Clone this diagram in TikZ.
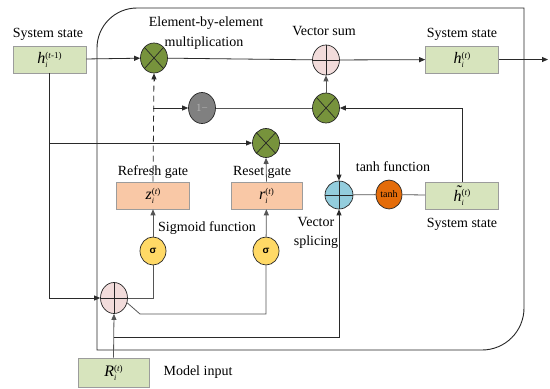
\documentclass[tikz,border=0pt]{standalone}
\usepackage{fontspec}
\setmainfont{Liberation Serif}
\newfontfamily\sigfont{Liberation Sans}
\usetikzlibrary{shapes.geometric,arrows.meta}
\definecolor{boxgreen}{HTML}{D7E4BD}
\definecolor{boxorange}{HTML}{F9C8A6}
\definecolor{boxline}{HTML}{9C9C9C}
\definecolor{opgreen}{HTML}{77933C}
\definecolor{oppink}{HTML}{F2DCDB}
\definecolor{opgray}{HTML}{808080}
\definecolor{opblue}{HTML}{93CDDD}
\definecolor{optanh}{HTML}{E46C0A}
\definecolor{opyellow}{HTML}{FFD966}
\definecolor{wire}{HTML}{2A2A2A}
\definecolor{wiregray}{HTML}{555555}
\newcommand{\sv}[3]{\textit{#1}\makebox[0pt][l]{\raisebox{-0.5ex}{\fontsize{8}{8}\selectfont\textit{#2}}}\raisebox{0.75ex}{\fontsize{9}{9}\selectfont #3}}
\newcommand{\htil}{\makebox[0pt][l]{\raisebox{0.62ex}{\kern2.2pt\textit{\char"02DC}}}\textit{h}}
\begin{document}
\begin{tikzpicture}[x=1pt,y=-1pt,
  box/.style={draw=boxline, line width=0.6pt, minimum width=73pt, minimum height=27pt, inner sep=0pt, font=\fontsize{16}{16}\selectfont},
  gbox/.style={box, fill=boxgreen},
  obox/.style={box, fill=boxorange},
  op/.style={ellipse, draw=black!85, line width=0.7pt, minimum width=27pt, minimum height=30pt, inner sep=0pt},
  lbl/.style={font=\fontsize{14}{14}\selectfont, inner sep=0pt},
  wireln/.style={draw=wire, line width=0.8pt},
  arr/.style={wireln, -{Triangle[length=6pt,width=5pt]}},
  garr/.style={draw=wiregray, line width=0.8pt, -{Triangle[length=6pt,width=5pt]}},
  gln/.style={draw=wiregray, line width=0.8pt}
]
\useasboundingbox (0,0) rectangle (550,389);
% frame
\draw[draw=black!85, line width=0.9pt] (97,350) -- (97,48) arc[start angle=180,end angle=270,radius=40] -- (524,8) -- (524,308) arc[start angle=0,end angle=90,radius=42] -- cycle;

% boxes
\node[gbox] (hprev) at (49.5,59.5) {\sv{h}{i}{(\textit{t}-1)}};
\node[gbox] (hout) at (462,59.5) {\sv{h}{i}{(\textit{t})}};
\node[obox] (z) at (153,195.5) {\sv{z}{i}{(\textit{t})}};
\node[obox, minimum width=71pt] (r) at (266.5,195.5) {\sv{r}{i}{(\textit{t})}};
\node[gbox] (ht) at (462,195.5) {\sv{\htil}{i}{(\textit{t})}};
\node[gbox, minimum width=71pt, minimum height=29pt] (R) at (113.5,372.5) {\sv{R}{i}{(\textit{t})}};

% operators
\node[op, fill=opgreen] (m1) at (154,58) {};
\node[op, fill=oppink] (vs) at (326,60) {};
\node[op, fill=opgray, minimum width=27pt, minimum height=31pt, font=\fontsize{11}{11}\selectfont\color{black!30}] (one) at (202,108) {1−};
\node[op, fill=opgreen] (m2) at (326,108) {};
\node[op, fill=opgreen, minimum height=29pt] (m3) at (266,143) {};
\node[op, fill=opblue, minimum width=28pt, minimum height=28pt] (vsp) at (339,195) {};
\node[op, fill=optanh, minimum width=26pt, minimum height=29pt, font=\fontsize{10}{10}\selectfont] (tanhc) at (389,194.5) {tanh};
\node[op, fill=opyellow, minimum width=26pt, minimum height=28pt, font=\sigfont\bfseries\fontsize{10}{10}\selectfont] (s1) at (153,251) {σ};
\node[op, fill=opyellow, minimum width=26pt, minimum height=28pt, font=\sigfont\bfseries\fontsize{10}{10}\selectfont] (s2) at (266,251) {σ};
\node[op, fill=oppink, minimum width=27pt, minimum height=31pt] (p1) at (114,298) {};

% symbols inside operators
\foreach \n in {m1,m2,m3}
  \draw[line width=0.7pt, black!85] (\n.north west) -- (\n.south east) (\n.north east) -- (\n.south west);
\foreach \n in {vs,vsp,p1}
  \draw[line width=0.7pt, black!85] (\n.north) -- (\n.south) (\n.west) -- (\n.east);

% labels
\node[lbl] (lsys1) at (48,34) {System state};
\node[lbl] (lsys2) at (462,34) {System state};
\node[lbl] (lelem1) at (206,23) {Element-by-element};
\node[lbl] (lelem2) at (204,43) {multiplication};
\node[lbl] (lvsum) at (324,31) {Vector sum};
\node[lbl] (lref) at (153,172) {Refresh gate};
\node[lbl] (lres) at (262,172) {Reset gate};
\node[lbl] (ltanh) at (393,167) {tanh function};
\node[lbl] (lsys3) at (462,224) {System state};
\node[lbl] (lsig) at (207,228) {Sigmoid function};
\node[lbl] (lvec1) at (316,222) {Vector};
\node[lbl] (lvec2) at (316,242) {splicing};
\node[lbl] (lmod) at (198,372) {Model input};

% coordinates
\coordinate (out) at (548,59.5);
\coordinate (jz) at (153,108);
\coordinate (jh) at (49.5,143);
\coordinate (bend) at (140,314);
\coordinate (jR) at (113.5,337);

% connectors
\draw[arr] (hprev) -- (m1);
\draw[wireln] (m1) -- (vs);
\draw[arr] (vs) -- (hout);
\draw[arr] (hout) -- (out);
\draw[wireln, dashed, dash pattern=on 6pt off 4pt] (z.north) -- (m1.south);
\draw[arr] ([yshift=-8pt]m1.south) -- (m1.south);
\draw[arr] (jz) -- (one);
\draw[gln] (one) -- (m2);
\draw[arr] (ht.north) |- (m2.east);
\draw[garr] (m2) -- (vs);
\draw[arr] (hprev.south) |- (p1.west);
\draw[arr] (jh) -- (m3.west);
\draw[garr] (r.north) -- (m3.south);
\draw[arr] (m3.east) -| (vsp.north);
\draw[gln] (vsp) -- (tanhc) -- (ht);
\draw[garr] (s1) -- (z);
\draw[garr] (s2) -- (r);
\draw[gln] (p1.east) -| (s1.south);
\draw[gln] (p1.-20) -- (bend) -| (s2.south);
\draw[garr] (R.north) -- (p1.south);
\draw[arr] (jR) -| (vsp.south);
\end{tikzpicture}
\end{document}
